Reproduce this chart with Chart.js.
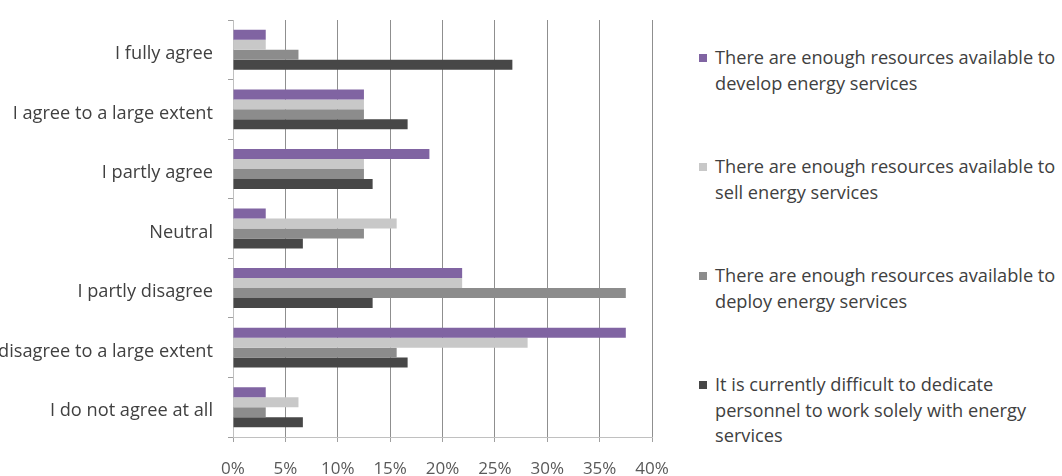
<!DOCTYPE html>
<html>
<head>
<meta charset="utf-8">
<script src="https://cdn.jsdelivr.net/npm/chart.js@4/dist/chart.umd.min.js"></script>
<style>
  html, body { margin: 0; padding: 0; background: #fff; }
  body { width: 1062px; height: 476px; position: relative; overflow: hidden; font-family: "Open Sans", sans-serif; }
  #wrap { position: absolute; left: 0; top: 0; width: 690px; height: 476px; }
  #legend { position: absolute; left: 699px; top: 45px; width: 362px; }
  .item { position: relative; padding-left: 16px; color: #404040; font-size: 18.2px; line-height: 25.5px; height: 109px; }
  .item .sw { position: absolute; left: 0; top: 9px; width: 8px; height: 8px; }
</style>
</head>
<body>
<div id="wrap"><canvas id="c"></canvas></div>
<div id="legend"></div>
<script>
const categories = ["I fully agree", "I agree to a large extent", "I partly agree", "Neutral", "I partly disagree", "I disagree to a large extent", "I do not agree at all"];
const seriesNames = [
  "There are enough resources available to develop energy services",
  "There are enough resources available to sell energy services",
  "There are enough resources available to deploy energy services",
  "It is currently difficult to dedicate personnel to work solely with energy services"
];
const developValues = [3.125, 12.5, 18.75, 3.125, 21.875, 37.5, 3.125];
const sellValues = [3.125, 12.5, 12.5, 15.625, 21.875, 28.125, 6.25];
const deployValues = [6.25, 12.5, 12.5, 12.5, 37.5, 15.625, 3.125];
const personnelValues = [26.67, 16.67, 13.33, 6.67, 13.33, 16.67, 6.67];
const xTicks = [0, 5, 10, 15, 20, 25, 30, 35, 40];
const colors = ["#8064a2", "#c8c8c8", "#8c8c8c", "#474747"];

const seriesValues = [developValues, sellValues, deployValues, personnelValues];

const legend = document.getElementById('legend');
seriesNames.forEach((n, i) => {
  const d = document.createElement('div');
  d.className = 'item';
  const s = document.createElement('span');
  s.className = 'sw';
  s.style.background = colors[i];
  d.appendChild(s);
  d.appendChild(document.createTextNode(n));
  legend.appendChild(d);
});

const canvas = document.getElementById('c');
canvas.width = 690; canvas.height = 476;
canvas.style.width = '690px'; canvas.style.height = '476px';

new Chart(canvas, {
  type: 'bar',
  data: {
    labels: categories,
    datasets: seriesNames.map((n, i) => ({
      label: n,
      data: seriesValues[i],
      backgroundColor: colors[i],
      borderWidth: 0,
      categoryPercentage: 0.67,
      barPercentage: 1.0
    }))
  },
  options: {
    indexAxis: 'y',
    responsive: false,
    animation: false,
    devicePixelRatio: 1,
    layout: { padding: { top: 20, right: 38, bottom: 0, left: 0 } },
    plugins: { legend: { display: false }, tooltip: { enabled: false } },
    scales: {
      x: {
        min: 0, max: 40,
        afterBuildTicks: (s) => { s.ticks = xTicks.map(v => ({ value: v })); },
        afterFit: (s) => { s.height = 39; },
        ticks: { callback: (v) => v + '%', color: '#595959', font: { family: 'Open Sans', size: 17 }, padding: 17, maxRotation: 0 },
        grid: { color: (ctx) => ctx.tick && ctx.tick.value === 0 ? '#c0c0c0' : '#8f8f8f', lineWidth: 1, tickLength: 5, tickColor: '#a0a0a0' },
        border: { display: true, color: '#c0c0c0', width: 1 }
      },
      y: {
        afterFit: (s) => { s.width = 233; s.paddingTop = 0; s.paddingBottom = 0; },
        ticks: { color: '#404040', font: { family: 'Open Sans', size: 18.2 }, padding: 15, labelOffset: 4 },
        grid: { drawOnChartArea: false, drawTicks: true, tickLength: 5, color: '#a0a0a0', offset: true },
        border: { display: true, color: '#c0c0c0', width: 1 }
      }
    }
  }
});
</script>
</body>
</html>
